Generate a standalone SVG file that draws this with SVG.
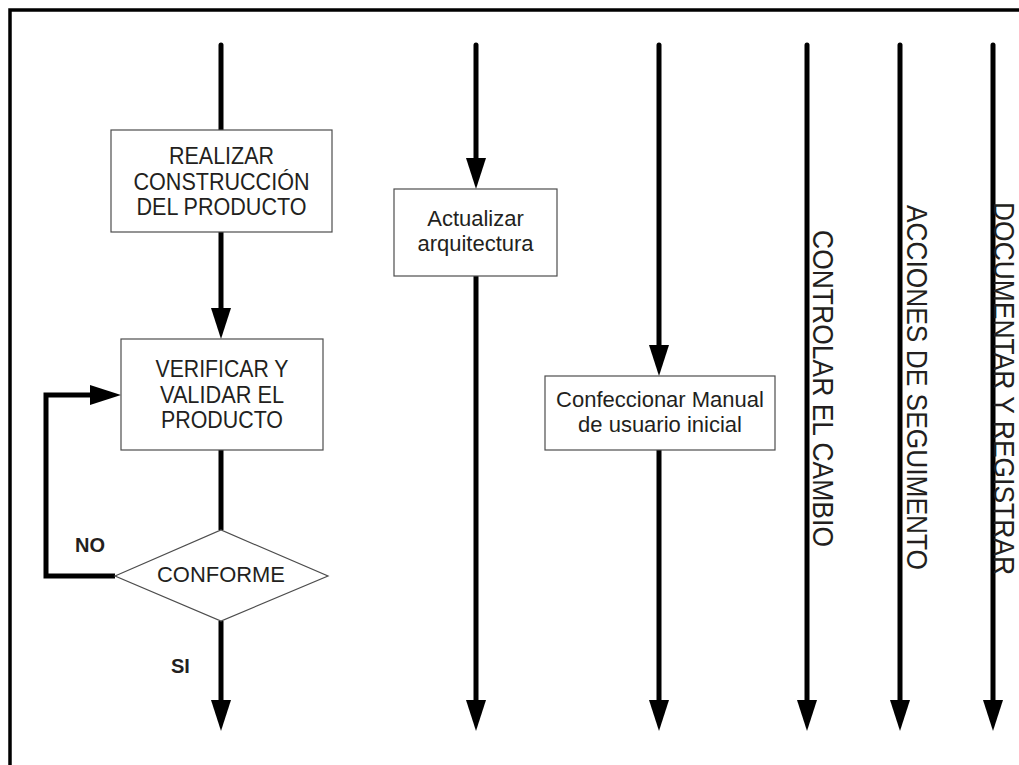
<svg xmlns="http://www.w3.org/2000/svg" width="1019" height="765" viewBox="0 0 1019 765">
  <style>
    .flow { fill: none; stroke: #000; stroke-width: 5; }
    .box { fill: #fff; stroke: #4d4d4d; stroke-width: 1.2; }
    .lbl { font-family: "Liberation Sans", Arial, sans-serif; fill: #231f20; text-anchor: middle; }
    .caps { font-size: 24px; }
    .low { font-size: 22px; }
    .side { font-family: "Liberation Sans", Arial, sans-serif; font-size: 29px; fill: #231f20; }
    .tag { font-family: "Liberation Sans", Arial, sans-serif; font-size: 20px; font-weight: bold; fill: #231f20; }
  </style>
  <defs>
    <marker id="head" markerUnits="userSpaceOnUse" markerWidth="31" markerHeight="20" refX="0" refY="10" orient="auto" overflow="visible">
      <path d="M0,0 L31,10 L0,20 Z" fill="#000"/>
    </marker>
  </defs>

  <rect width="1019" height="765" fill="#fff"/>

  <!-- frame -->
  <path d="M10,765 V10 H1019" fill="none" stroke="#000" stroke-width="3.5"/>

  <!-- connectors -->
  <g id="connectors">
    <path class="flow" stroke-linecap="round" d="M221,45 V130"/>
    <path class="flow" marker-end="url(#head)" d="M221,232 V308"/>
    <path class="flow" d="M221,450 V530"/>
    <path class="flow" marker-end="url(#head)" d="M221,621 V700"/>
    <path class="flow" marker-end="url(#head)" d="M115,576 H46 V395 H90"/>

    <path class="flow" stroke-linecap="round" marker-end="url(#head)" d="M476,45 V158"/>
    <path class="flow" marker-end="url(#head)" d="M476,276 V700"/>

    <path class="flow" stroke-linecap="round" marker-end="url(#head)" d="M659,45 V345"/>
    <path class="flow" marker-end="url(#head)" d="M659,450 V700"/>

    <path class="flow" stroke-linecap="round" marker-end="url(#head)" d="M807,45 V700"/>
    <path class="flow" stroke-linecap="round" marker-end="url(#head)" d="M900,45 V700"/>
    <path class="flow" stroke-linecap="round" marker-end="url(#head)" d="M993,45 V700"/>
  </g>

  <!-- nodes -->
  <g id="realizar">
    <rect class="box" x="111" y="130" width="221" height="102"/>
    <text class="lbl caps" x="221.5" y="164" textLength="105" lengthAdjust="spacingAndGlyphs">REALIZAR</text>
    <text class="lbl caps" x="221.5" y="190" textLength="176" lengthAdjust="spacingAndGlyphs">CONSTRUCCIÓN</text>
    <text class="lbl caps" x="221.5" y="215" textLength="170" lengthAdjust="spacingAndGlyphs">DEL PRODUCTO</text>
  </g>

  <g id="verificar">
    <rect class="box" x="121" y="339" width="202" height="111"/>
    <text class="lbl caps" x="222" y="377" textLength="133" lengthAdjust="spacingAndGlyphs">VERIFICAR Y</text>
    <text class="lbl caps" x="222" y="403" textLength="124" lengthAdjust="spacingAndGlyphs">VALIDAR EL</text>
    <text class="lbl caps" x="222" y="428" textLength="122" lengthAdjust="spacingAndGlyphs">PRODUCTO</text>
  </g>

  <g id="conforme">
    <polygon class="box" points="115,576 221,530 328,576 221,621"/>
    <text class="lbl low" x="221" y="582" textLength="128" lengthAdjust="spacingAndGlyphs">CONFORME</text>
  </g>

  <g id="label-no">
    <text class="tag" x="75" y="552">NO</text>
  </g>
  <g id="label-si">
    <text class="tag" x="171" y="673">SI</text>
  </g>

  <g id="actualizar">
    <rect class="box" x="394" y="189" width="163" height="87"/>
    <text class="lbl low" x="475.5" y="226">Actualizar</text>
    <text class="lbl low" x="475.5" y="251">arquitectura</text>
  </g>

  <g id="manual">
    <rect class="box" x="545" y="376" width="230" height="74"/>
    <text class="lbl low" x="660" y="407">Confeccionar Manual</text>
    <text class="lbl low" x="660" y="432">de usuario inicial</text>
  </g>

  <g id="controlar">
    <text class="side" transform="translate(813,230) rotate(90)" textLength="317" lengthAdjust="spacingAndGlyphs">CONTROLAR EL CAMBIO</text>
  </g>
  <g id="acciones">
    <text class="side" transform="translate(907,205) rotate(90)" textLength="365" lengthAdjust="spacingAndGlyphs">ACCIONES DE SEGUIMENTO</text>
  </g>
  <g id="documentar">
    <text class="side" transform="translate(994,202) rotate(90)" textLength="373" lengthAdjust="spacingAndGlyphs">DOCUMENTAR Y REGISTRAR</text>
  </g>
</svg>
